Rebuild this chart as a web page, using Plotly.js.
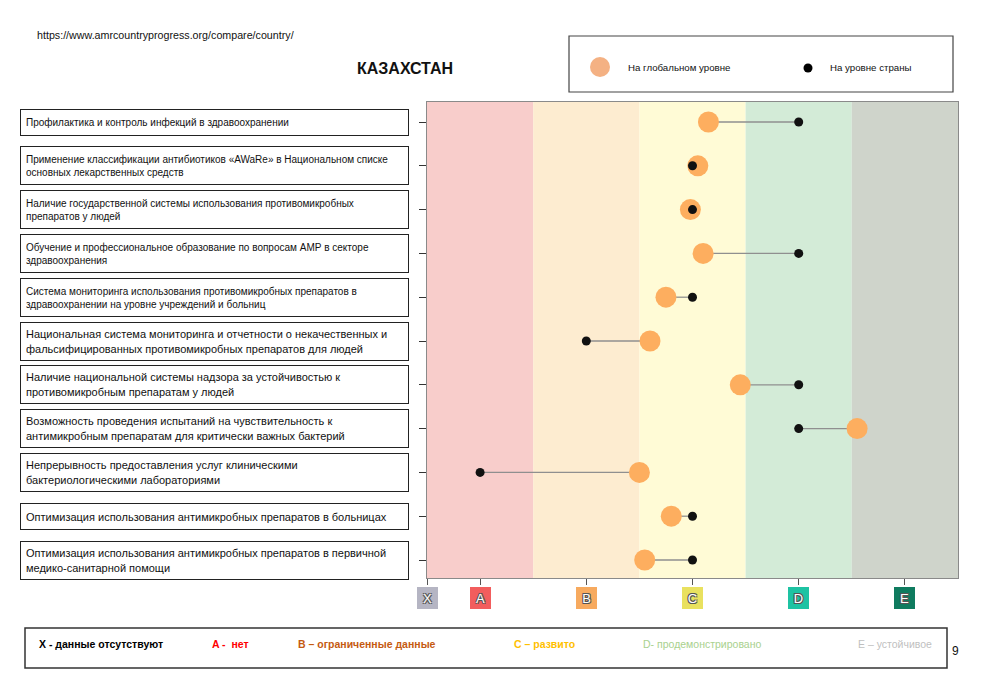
<!DOCTYPE html>
<html>
<head>
<meta charset="utf-8">
<script src="https://cdn.plot.ly/plotly-3.0.1.min.js"></script>
<style>html,body{margin:0;padding:0;background:#fff;}#chart{width:985px;height:688px;}</style>
</head>
<body>
<div id="chart"></div>
<script>
// ---- data ----
const indicators = [
  "Профилактика и контроль инфекций в здравоохранении",
  "Применение классификации антибиотиков «AWaRe» в Национальном списке\nосновных лекарственных средств",
  "Наличие государственной системы использования противомикробных\nпрепаратов у людей",
  "Обучение и профессиональное образование по вопросам АМР в секторе\nздравоохранения",
  "Система мониторинга использования противомикробных препаратов в\nздравоохранении на уровне учреждений и больниц",
  "Национальная система мониторинга и отчетности о некачественных и\nфальсифицированных противомикробных препаратов для людей",
  "Наличие национальной системы надзора за устойчивостью к\nпротивомикробным препаратам у людей",
  "Возможность проведения испытаний на чувствительность к\nантимикробным препаратам для критически важных бактерий",
  "Непрерывность предоставления услуг клиническими\nбактериологическими лабораториями",
  "Оптимизация использования антимикробных препаратов в больницах",
  "Оптимизация использования антимикробных препаратов в первичной\nмедико-санитарной помощи"
];
const globalLevel  = [3.15, 3.05, 2.98, 3.10, 2.75, 2.60, 3.45, 4.55, 2.50, 2.80, 2.55];
const countryLevel = [4, 3, 3, 4, 3, 2, 4, 4, 1, 3, 3];
const levelValues = [0.5, 1, 2, 3, 4, 5];
const levelLabels = ["X", "A", "B", "C", "D", "E"];
const seriesNames = ["На глобальном уровне", "На уровне страны"];
const bottomLegend = ["X - данные отсутствуют", "A -  нет", "B – ограниченные данные", "C – развито", "D- продемонстрировано", "E – устойчивое"];
const title = "КАЗАХСТАН";
const sourceUrl = "https://www.amrcountryprogress.org/compare/country/";
const pageNumber = "9";

// ---- styles ----
const FONT = "Liberation Sans, Arial, sans-serif";
const bandColors = ["#f8cdcb", "#fdecd0", "#fffbd6", "#d3ebd7", "#cfd4cb"];
const tickBoxColors = ["#b5b5c3", "#f25d5d", "#f7aa5f", "#e9e15f", "#1ec3a3", "#0f7b5f"];
const bottomColors = ["#000000", "#ff0000", "#c55a11", "#ffc000", "#a9d18e", "#bfbfbf"];
const bottomBold = [true, true, true, true, false, false];
const bottomX = [37, 210, 296, 512, 641, 856];

const L = 427, R = 27, T = 102, B = 110, W = 985, H = 688;
const PW = W - L - R, PH = H - T - B;
const px = v => (v - L) / PW;          // page x -> paper
const py = v => (H - B - v) / PH;      // page y -> paper

const cats = indicators.map(s => s.replace("\n", " "));

// connectors
const cx = [], cy = [];
cats.forEach((c, i) => { cx.push(globalLevel[i], countryLevel[i], null); cy.push(c, c, null); });

const traces = [
  {type: "scatter", mode: "lines", x: cx, y: cy, line: {color: "#8f8f8f", width: 1.3}, hoverinfo: "skip", showlegend: false},
  {type: "scatter", mode: "markers", name: seriesNames[0], x: globalLevel, y: cats,
   marker: {size: 21, color: "#fdae5f"}, showlegend: false},
  {type: "scatter", mode: "markers", name: seriesNames[1], x: countryLevel, y: cats,
   marker: {size: 9, color: "#111111"}, showlegend: false}
];

const shapes = [];
const annotations = [];

// background bands
for (let i = 0; i < bandColors.length; i++) {
  shapes.push({type: "rect", layer: "below", xref: "x", yref: "paper",
    x0: 0.5 + i, x1: 1.5 + i, y0: 0, y1: 1, fillcolor: bandColors[i], line: {width: 0}});
}

// indicator label boxes
indicators.forEach((txt, i) => {
  const lines = txt.split("\n").length;
  const fs = i < 5 ? 10 : 11;
  annotations.push({
    xref: "paper", yref: "y", x: px(20), y: cats[i], xanchor: "left", yanchor: "middle",
    text: txt.replace("\n", "<br>"), showarrow: false, align: "left", valign: "middle",
    width: 377, height: lines === 1 ? 15 : 27, borderpad: 5, bordercolor: "#222", borderwidth: 1,
    bgcolor: "#ffffff", font: {family: FONT, size: fs, color: "#111"}
  });
});

// x tick boxes
levelValues.forEach((v, i) => {
  annotations.push({
    xref: "x", yref: "paper", x: v, y: py(598), xanchor: "center", yanchor: "middle",
    text: levelLabels[i], showarrow: false, width: 15, height: 16, borderpad: 2,
    bgcolor: tickBoxColors[i], bordercolor: tickBoxColors[i], borderwidth: 1,
    font: {family: FONT, size: 13, color: "#ffffff",
      shadow: "-1px -1px 0 #555, 1px -1px 0 #555, -1px 1px 0 #555, 1px 1px 0 #555"}
  });
});

// top legend box
shapes.push({type: "rect", xref: "paper", yref: "paper", x0: px(569), x1: px(953), y0: py(92), y1: py(36),
  line: {color: "#444", width: 1.2}, fillcolor: "rgba(0,0,0,0)"});
shapes.push({type: "circle", xref: "paper", yref: "paper", xsizemode: "pixel", ysizemode: "pixel",
  xanchor: px(600), yanchor: py(67), x0: -10, x1: 10, y0: -10, y1: 10, fillcolor: "#f4b183", line: {width: 0}});
shapes.push({type: "circle", xref: "paper", yref: "paper", xsizemode: "pixel", ysizemode: "pixel",
  xanchor: px(808), yanchor: py(68), x0: -4.5, x1: 4.5, y0: -4.5, y1: 4.5, fillcolor: "#000", line: {width: 0}});
annotations.push({xref: "paper", yref: "paper", x: px(626), y: py(67), xanchor: "left", yanchor: "middle",
  text: seriesNames[0], showarrow: false, font: {family: FONT, size: 9.7, color: "#111"}});
annotations.push({xref: "paper", yref: "paper", x: px(828), y: py(67), xanchor: "left", yanchor: "middle",
  text: seriesNames[1], showarrow: false, font: {family: FONT, size: 9.7, color: "#111"}});

// source url
annotations.push({xref: "paper", yref: "paper", x: px(35), y: py(35), xanchor: "left", yanchor: "middle",
  text: sourceUrl, showarrow: false, font: {family: FONT, size: 10.7, color: "#111"}});

// bottom legend
shapes.push({type: "rect", xref: "paper", yref: "paper", x0: px(25), x1: px(947), y0: py(668), y1: py(628),
  line: {color: "#333", width: 1.5}, fillcolor: "rgba(0,0,0,0)"});
bottomLegend.forEach((t, i) => {
  annotations.push({xref: "paper", yref: "paper", x: px(bottomX[i]), y: py(644), xanchor: "left", yanchor: "middle",
    text: bottomBold[i] ? "<b>" + t + "</b>" : t, showarrow: false,
    font: {family: FONT, size: 10.5, color: bottomColors[i]}});
});
annotations.push({xref: "paper", yref: "paper", x: px(950), y: py(651), xanchor: "left", yanchor: "middle",
  text: pageNumber, showarrow: false, font: {family: FONT, size: 12, color: "#111"}});

const layout = {
  width: W, height: H,
  margin: {l: L, r: R, t: T, b: B},
  paper_bgcolor: "#ffffff", plot_bgcolor: "#ffffff",
  showlegend: false,
  title: {text: "<b>" + title + "</b>", xref: "container", yref: "container",
    x: 405 / W, y: 1 - 68 / H, xanchor: "center", yanchor: "middle",
    font: {family: FONT, size: 16, color: "#111"}},
  xaxis: {range: [0.5, 5.5], tickvals: levelValues, ticktext: levelValues.map(() => ""),
    ticks: "outside", ticklen: 6, tickcolor: "#555", showgrid: false, zeroline: false,
    showline: true, linecolor: "#8a8a8a", linewidth: 1.2, mirror: true, fixedrange: true},
  yaxis: {type: "category", categoryorder: "array", categoryarray: cats,
    range: [cats.length - 1 + 18 / 43.8, -20 / 43.8],
    showticklabels: false, ticks: "outside", ticklen: 7, tickcolor: "#333",
    showgrid: false, zeroline: false, showline: true, linecolor: "#8a8a8a", linewidth: 1.2, mirror: true, fixedrange: true},
  shapes: shapes,
  annotations: annotations,
  font: {family: FONT}
};

Plotly.newPlot("chart", traces, layout, {displayModeBar: false, staticPlot: true});
</script>
</body>
</html>
